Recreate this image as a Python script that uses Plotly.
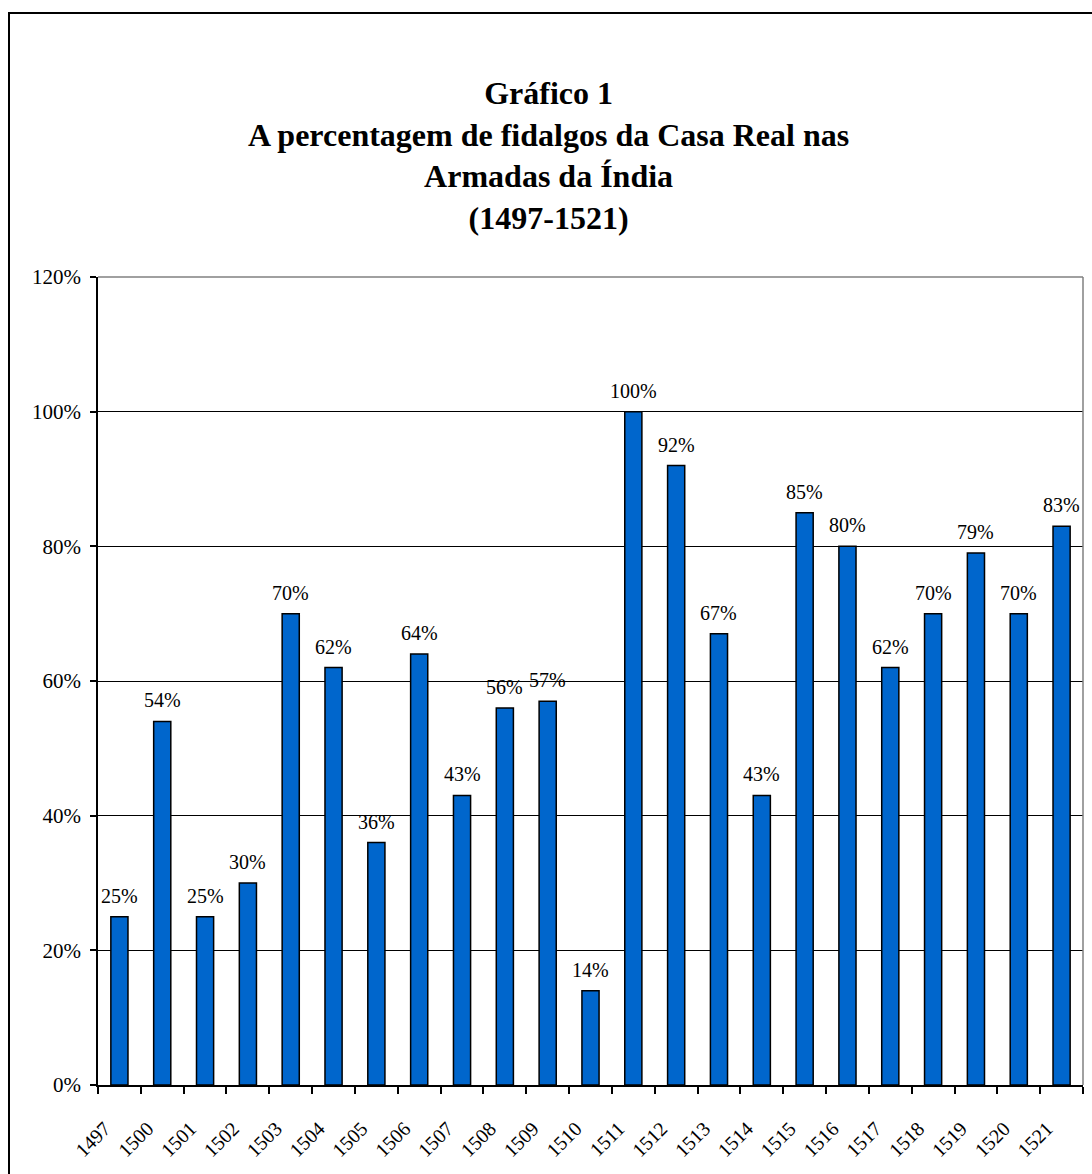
import plotly.graph_objects as go

# Armadas da Índia: share of royal-household fidalgos per year
years = ["1497", "1500", "1501", "1502", "1503", "1504", "1505", "1506",
         "1507", "1508", "1509", "1510", "1511", "1512", "1513", "1514",
         "1515", "1516", "1517", "1518", "1519", "1520", "1521"]
pct = [25, 54, 25, 30, 70, 62, 36, 64, 43, 56, 57, 14,
       100, 92, 67, 43, 85, 80, 62, 70, 79, 70, 83]
y_ticks = [0, 20, 40, 60, 80, 100, 120]

title_lines = ["Gráfico 1",
               "A percentagem de fidalgos da Casa Real nas",
               "Armadas da Índia",
               "(1497-1521)"]

W, H = 1092, 1174
ML, MR, MT, MB = 98, 9, 277, 89
PW, PH = W - ML - MR, H - MT - MB


def px_x(px):
    return (px - ML) / PW


def px_y(py):
    return (H - MB - py) / PH


SERIF = "'Times New Roman', 'Liberation Serif', Times, serif"
n = len(years)
centers = [i + 0.5 for i in range(n)]
vals = [v / 100 for v in pct]

fig = go.Figure()
fig.add_trace(go.Bar(
    x=centers, y=vals, width=0.4,
    marker=dict(color="#0066CC", line=dict(color="black", width=1.5)),
    hoverinfo="skip", showlegend=False,
))
# carrier for the category-label axis
fig.add_trace(go.Scatter(
    x=[0, n], y=[0, 0], xaxis="x2", mode="markers",
    marker=dict(size=0, opacity=0), hoverinfo="skip", showlegend=False,
))

# value labels above each bar
for c, v, p in zip(centers, vals, pct):
    fig.add_annotation(
        x=c, y=v, text=f"{p}%", showarrow=False,
        xanchor="center", yanchor="bottom", yshift=8,
        font=dict(family=SERIF, size=20, color="black"),
    )

# chart title
fig.add_annotation(
    xref="paper", yref="paper", x=px_x(548), y=px_y(73),
    xanchor="center", yanchor="top", showarrow=False,
    text="<br>".join(f"<b>{t}</b>" for t in title_lines),
    font=dict(family=SERIF, size=32, color="black"),
)

# outer chart frame and grey plot-area edges
fig.add_shape(type="rect", xref="paper", yref="paper",
              x0=px_x(9), x1=px_x(1110), y0=px_y(13), y1=px_y(1200),
              line=dict(color="black", width=2), layer="above")
fig.add_shape(type="line", xref="paper", yref="paper",
              x0=0, x1=1, y0=1, y1=1,
              line=dict(color="#808080", width=1.5), layer="above")
fig.add_shape(type="line", xref="paper", yref="paper",
              x0=1, x1=1, y0=0, y1=1,
              line=dict(color="#808080", width=1.5), layer="above")

fig.update_layout(
    width=W, height=H,
    margin=dict(l=ML, r=MR, t=MT, b=MB, pad=0),
    paper_bgcolor="white", plot_bgcolor="white",
    font=dict(family=SERIF, color="black"),
    bargap=0.6,
    xaxis=dict(
        range=[0, n], tickvals=list(range(n + 1)), showticklabels=False,
        ticks="outside", ticklen=7, tickwidth=1.5, tickcolor="black",
        showline=True, linecolor="black", linewidth=1.5,
        showgrid=False, zeroline=False, fixedrange=True,
    ),
    xaxis2=dict(
        overlaying="x", anchor="y", side="bottom",
        range=[0, n], tickvals=[i + 0.16 for i in range(n)], ticktext=years,
        tickangle=-45, ticks="", ticklabelstandoff=27,
        tickfont=dict(family=SERIF, size=20, color="black"),
        showline=False, showgrid=False, zeroline=False, fixedrange=True,
    ),
    yaxis=dict(
        range=[0, 1.2], tickvals=[t / 100 for t in y_ticks],
        ticktext=[f"{t}%" for t in y_ticks],
        ticks="outside", ticklen=6, tickwidth=1.5, tickcolor="black",
        ticklabelstandoff=5,
        tickfont=dict(family=SERIF, size=21, color="black"),
        showline=True, linecolor="black", linewidth=1.5,
        showgrid=True, gridcolor="black", gridwidth=1,
        zeroline=False, fixedrange=True,
    ),
)

fig.write_html("out.html")
